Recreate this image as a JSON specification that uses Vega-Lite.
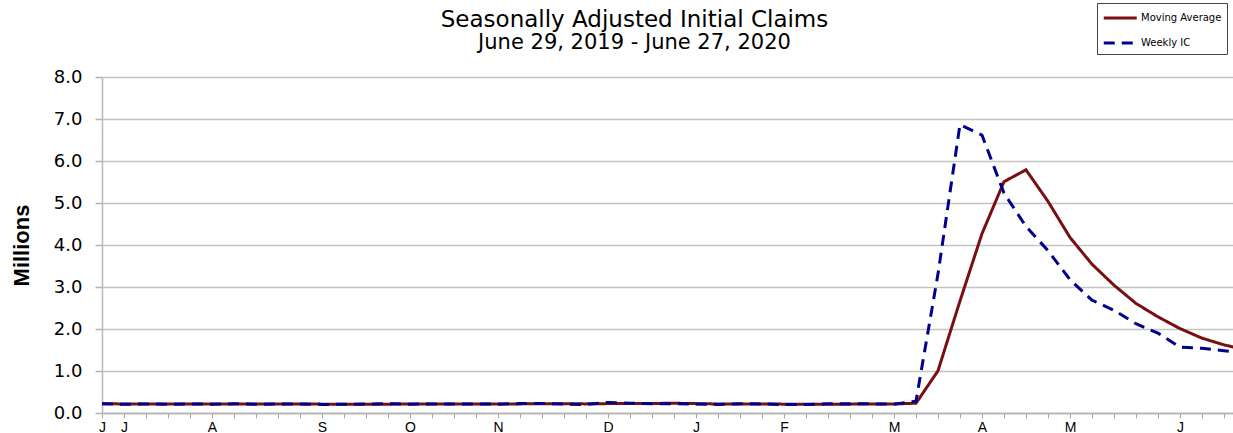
{
  "$schema": "https://vega.github.io/schema/vega-lite/v6.json",
  "width": 1131,
  "height": 336,
  "autosize": {"type": "none"},
  "padding": {"left": 102, "top": 77, "right": 0, "bottom": 20},
  "background": "white",
  "title": {
    "text": "Seasonally Adjusted Initial Claims",
    "subtitle": "June 29, 2019 - June 27, 2020",
    "anchor": "middle",
    "dx": -33,
    "offset": -50,
    "font": "DejaVu Sans",
    "fontSize": 23,
    "fontWeight": "normal",
    "color": "#000000",
    "subtitleFont": "DejaVu Sans",
    "subtitleFontSize": 21,
    "subtitleColor": "#000000",
    "subtitlePadding": 0
  },
  "data": {
    "values": [
      {"week": "2019-06-29", "Moving Average": 0.220, "Weekly IC": 0.221},
      {"week": "2019-07-06", "Moving Average": 0.216, "Weekly IC": 0.209},
      {"week": "2019-07-13", "Moving Average": 0.214, "Weekly IC": 0.216},
      {"week": "2019-07-20", "Moving Average": 0.213, "Weekly IC": 0.206},
      {"week": "2019-07-27", "Moving Average": 0.212, "Weekly IC": 0.215},
      {"week": "2019-08-03", "Moving Average": 0.212, "Weekly IC": 0.209},
      {"week": "2019-08-10", "Moving Average": 0.213, "Weekly IC": 0.220},
      {"week": "2019-08-17", "Moving Average": 0.213, "Weekly IC": 0.209},
      {"week": "2019-08-24", "Moving Average": 0.213, "Weekly IC": 0.215},
      {"week": "2019-08-31", "Moving Average": 0.215, "Weekly IC": 0.217},
      {"week": "2019-09-07", "Moving Average": 0.211, "Weekly IC": 0.204},
      {"week": "2019-09-14", "Moving Average": 0.211, "Weekly IC": 0.208},
      {"week": "2019-09-21", "Moving Average": 0.211, "Weekly IC": 0.213},
      {"week": "2019-09-28", "Moving Average": 0.211, "Weekly IC": 0.219},
      {"week": "2019-10-05", "Moving Average": 0.213, "Weekly IC": 0.210},
      {"week": "2019-10-12", "Moving Average": 0.214, "Weekly IC": 0.214},
      {"week": "2019-10-19", "Moving Average": 0.214, "Weekly IC": 0.212},
      {"week": "2019-10-26", "Moving Average": 0.214, "Weekly IC": 0.218},
      {"week": "2019-11-02", "Moving Average": 0.214, "Weekly IC": 0.211},
      {"week": "2019-11-09", "Moving Average": 0.217, "Weekly IC": 0.225},
      {"week": "2019-11-16", "Moving Average": 0.220, "Weekly IC": 0.227},
      {"week": "2019-11-23", "Moving Average": 0.219, "Weekly IC": 0.213},
      {"week": "2019-11-30", "Moving Average": 0.217, "Weekly IC": 0.203},
      {"week": "2019-12-07", "Moving Average": 0.224, "Weekly IC": 0.252},
      {"week": "2019-12-14", "Moving Average": 0.226, "Weekly IC": 0.234},
      {"week": "2019-12-21", "Moving Average": 0.227, "Weekly IC": 0.220},
      {"week": "2019-12-28", "Moving Average": 0.232, "Weekly IC": 0.222},
      {"week": "2020-01-04", "Moving Average": 0.223, "Weekly IC": 0.214},
      {"week": "2020-01-11", "Moving Average": 0.215, "Weekly IC": 0.204},
      {"week": "2020-01-18", "Moving Average": 0.216, "Weekly IC": 0.223},
      {"week": "2020-01-25", "Moving Average": 0.214, "Weekly IC": 0.216},
      {"week": "2020-02-01", "Moving Average": 0.211, "Weekly IC": 0.201},
      {"week": "2020-02-08", "Moving Average": 0.211, "Weekly IC": 0.205},
      {"week": "2020-02-15", "Moving Average": 0.210, "Weekly IC": 0.219},
      {"week": "2020-02-22", "Moving Average": 0.211, "Weekly IC": 0.219},
      {"week": "2020-02-29", "Moving Average": 0.215, "Weekly IC": 0.217},
      {"week": "2020-03-07", "Moving Average": 0.217, "Weekly IC": 0.211},
      {"week": "2020-03-14", "Moving Average": 0.232, "Weekly IC": 0.282},
      {"week": "2020-03-21", "Moving Average": 1.004, "Weekly IC": 3.307},
      {"week": "2020-03-28", "Moving Average": 2.667, "Weekly IC": 6.867},
      {"week": "2020-04-04", "Moving Average": 4.268, "Weekly IC": 6.615},
      {"week": "2020-04-11", "Moving Average": 5.507, "Weekly IC": 5.237},
      {"week": "2020-04-18", "Moving Average": 5.790, "Weekly IC": 4.442},
      {"week": "2020-04-25", "Moving Average": 5.040, "Weekly IC": 3.867},
      {"week": "2020-05-02", "Moving Average": 4.181, "Weekly IC": 3.176},
      {"week": "2020-05-09", "Moving Average": 3.543, "Weekly IC": 2.687},
      {"week": "2020-05-16", "Moving Average": 3.044, "Weekly IC": 2.446},
      {"week": "2020-05-23", "Moving Average": 2.609, "Weekly IC": 2.126},
      {"week": "2020-05-30", "Moving Average": 2.290, "Weekly IC": 1.901},
      {"week": "2020-06-06", "Moving Average": 2.010, "Weekly IC": 1.566},
      {"week": "2020-06-13", "Moving Average": 1.783, "Weekly IC": 1.540},
      {"week": "2020-06-20", "Moving Average": 1.622, "Weekly IC": 1.482},
      {"week": "2020-06-27", "Moving Average": 1.504, "Weekly IC": 1.427}
    ]
  },
  "transform": [
    {"fold": ["Moving Average", "Weekly IC"], "as": ["series", "claims"]}
  ],
  "mark": {"type": "line", "strokeWidth": 3, "clip": true, "strokeCap": "butt", "strokeJoin": "miter"},
  "encoding": {
    "x": {
      "field": "week",
      "type": "temporal",
      "scale": {
        "type": "utc",
        "domain": [
          {"year": 2019, "month": 6, "date": 29, "utc": true},
          {"year": 2020, "month": 6, "date": 22, "hours": 21, "utc": true}
        ]
      },
      "axis": {
        "title": null,
        "grid": false,
        "values": [
          {"year": 2019, "month": 6, "date": 29, "utc": true},
          {"year": 2019, "month": 7, "date": 6, "utc": true},
          {"year": 2019, "month": 7, "date": 13, "utc": true},
          {"year": 2019, "month": 7, "date": 20, "utc": true},
          {"year": 2019, "month": 7, "date": 27, "utc": true},
          {"year": 2019, "month": 8, "date": 3, "utc": true},
          {"year": 2019, "month": 8, "date": 10, "utc": true},
          {"year": 2019, "month": 8, "date": 17, "utc": true},
          {"year": 2019, "month": 8, "date": 24, "utc": true},
          {"year": 2019, "month": 8, "date": 31, "utc": true},
          {"year": 2019, "month": 9, "date": 7, "utc": true},
          {"year": 2019, "month": 9, "date": 14, "utc": true},
          {"year": 2019, "month": 9, "date": 21, "utc": true},
          {"year": 2019, "month": 9, "date": 28, "utc": true},
          {"year": 2019, "month": 10, "date": 5, "utc": true},
          {"year": 2019, "month": 10, "date": 12, "utc": true},
          {"year": 2019, "month": 10, "date": 19, "utc": true},
          {"year": 2019, "month": 10, "date": 26, "utc": true},
          {"year": 2019, "month": 11, "date": 2, "utc": true},
          {"year": 2019, "month": 11, "date": 9, "utc": true},
          {"year": 2019, "month": 11, "date": 16, "utc": true},
          {"year": 2019, "month": 11, "date": 23, "utc": true},
          {"year": 2019, "month": 11, "date": 30, "utc": true},
          {"year": 2019, "month": 12, "date": 7, "utc": true},
          {"year": 2019, "month": 12, "date": 14, "utc": true},
          {"year": 2019, "month": 12, "date": 21, "utc": true},
          {"year": 2019, "month": 12, "date": 28, "utc": true},
          {"year": 2020, "month": 1, "date": 4, "utc": true},
          {"year": 2020, "month": 1, "date": 11, "utc": true},
          {"year": 2020, "month": 1, "date": 18, "utc": true},
          {"year": 2020, "month": 1, "date": 25, "utc": true},
          {"year": 2020, "month": 2, "date": 1, "utc": true},
          {"year": 2020, "month": 2, "date": 8, "utc": true},
          {"year": 2020, "month": 2, "date": 15, "utc": true},
          {"year": 2020, "month": 2, "date": 22, "utc": true},
          {"year": 2020, "month": 2, "date": 29, "utc": true},
          {"year": 2020, "month": 3, "date": 7, "utc": true},
          {"year": 2020, "month": 3, "date": 14, "utc": true},
          {"year": 2020, "month": 3, "date": 21, "utc": true},
          {"year": 2020, "month": 3, "date": 28, "utc": true},
          {"year": 2020, "month": 4, "date": 4, "utc": true},
          {"year": 2020, "month": 4, "date": 11, "utc": true},
          {"year": 2020, "month": 4, "date": 18, "utc": true},
          {"year": 2020, "month": 4, "date": 25, "utc": true},
          {"year": 2020, "month": 5, "date": 2, "utc": true},
          {"year": 2020, "month": 5, "date": 9, "utc": true},
          {"year": 2020, "month": 5, "date": 16, "utc": true},
          {"year": 2020, "month": 5, "date": 23, "utc": true},
          {"year": 2020, "month": 5, "date": 30, "utc": true},
          {"year": 2020, "month": 6, "date": 6, "utc": true},
          {"year": 2020, "month": 6, "date": 13, "utc": true},
          {"year": 2020, "month": 6, "date": 20, "utc": true}
        ],
        "labelExpr": "(utcdate(datum.value) <= 7 || (utcyear(datum.value) == 2019 && utcmonth(datum.value) == 5)) ? slice(utcFormat(datum.value, '%B'), 0, 1) : ''",
        "labelFont": "Liberation Sans",
        "labelFontSize": 14,
        "labelColor": "#000000",
        "labelPadding": 2,
        "labelOverlap": false,
        "labelFlush": false,
        "tickSize": 5,
        "tickColor": "#a8a8a8",
        "tickWidth": 1,
        "domainColor": "#b0b0b0",
        "domainWidth": 1.5
      }
    },
    "y": {
      "field": "claims",
      "type": "quantitative",
      "scale": {"domain": [0, 8], "nice": false, "zero": true},
      "axis": {
        "title": "Millions",
        "titleFont": "Liberation Sans",
        "titleFontSize": 22,
        "titleFontWeight": "bold",
        "titleColor": "#000000",
        "titlePadding": 20,
        "values": [0, 1, 2, 3, 4, 5, 6, 7, 8],
        "format": ".1f",
        "labelFont": "DejaVu Sans",
        "labelFontSize": 18,
        "labelColor": "#000000",
        "labelPadding": 13,
        "tickSize": 7,
        "tickColor": "#b0b0b0",
        "tickWidth": 1.5,
        "domainColor": "#b8b8b8",
        "domainWidth": 1.5,
        "grid": true,
        "gridColor": "#c4c4c4",
        "gridWidth": 1.5
      }
    },
    "color": {
      "field": "series",
      "type": "nominal",
      "scale": {"domain": ["Moving Average", "Weekly IC"], "range": ["#780f12", "#00008c"]},
      "legend": {
        "title": null,
        "orient": "none",
        "legendX": 995,
        "legendY": -74,
        "strokeColor": "#444444",
        "fillColor": "#ffffff",
        "padding": 5,
        "rowPadding": 9,
        "labelFont": "DejaVu Sans",
        "labelFontSize": 10,
        "labelColor": "#000000",
        "labelOffset": 19,
        "symbolType": "M-1,0H3",
        "symbolSize": 272,
        "symbolStrokeWidth": 3
      }
    },
    "strokeDash": {
      "field": "series",
      "type": "nominal",
      "scale": {"domain": ["Moving Average", "Weekly IC"], "range": [[1, 0], [11, 7]]},
      "legend": null
    }
  },
  "config": {
    "view": {"stroke": null}
  }
}
